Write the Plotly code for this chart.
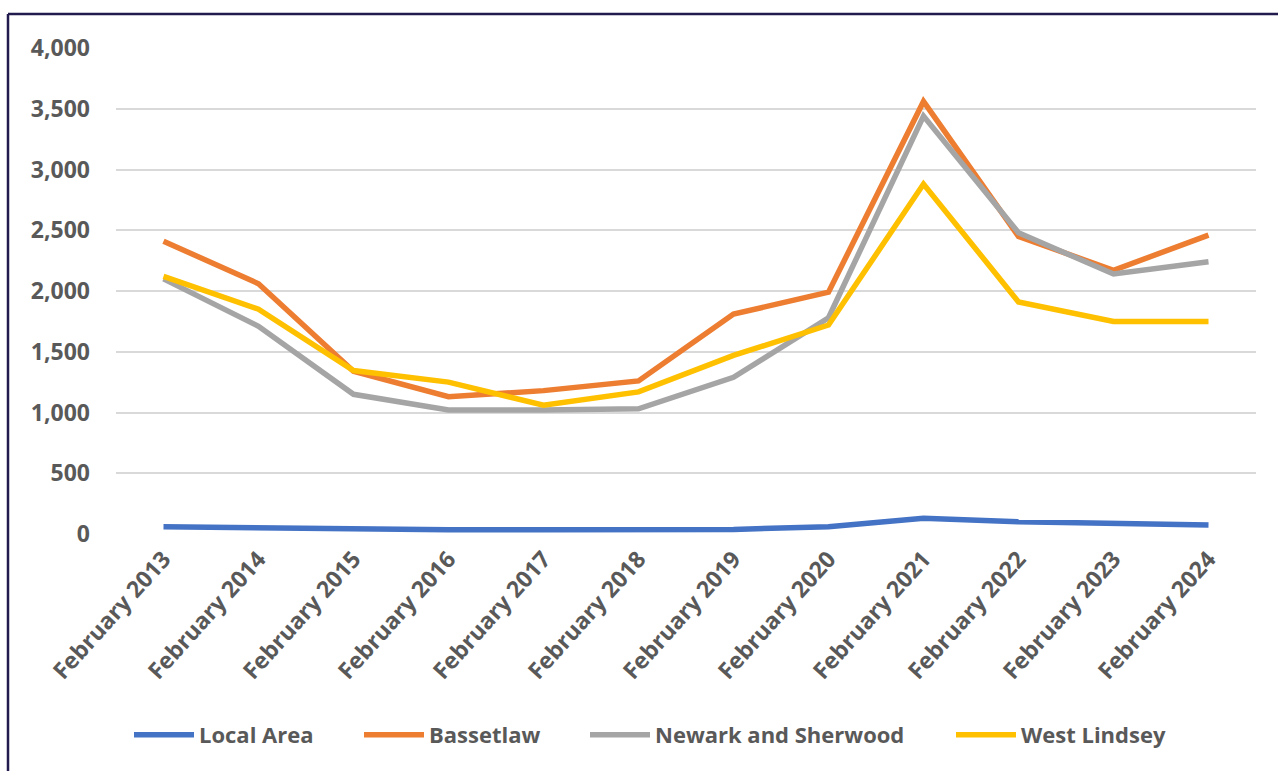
import plotly.graph_objects as go

categories = ["February 2013", "February 2014", "February 2015", "February 2016",
              "February 2017", "February 2018", "February 2019", "February 2020",
              "February 2021", "February 2022", "February 2023", "February 2024"]

local_area = [60, 50, 35, 35, 35, 35, 38, 60, 130, 100, 90, 75]
bassetlaw = [2410, 2060, 1340, 1130, 1180, 1260, 1810, 1990, 3560, 2450, 2170, 2460]
newark_sherwood = [2100, 1710, 1150, 1020, 1020, 1030, 1290, 1780, 3440, 2480, 2140, 2240]
west_lindsey = [2120, 1850, 1345, 1250, 1060, 1170, 1470, 1720, 2880, 1910, 1750, 1750]

series_names = ["Local Area", "Bassetlaw", "Newark and Sherwood", "West Lindsey"]
series_values = [local_area, bassetlaw, newark_sherwood, west_lindsey]
series_colors = ["#4472C4", "#ED7D31", "#A5A5A5", "#FFC000"]
legend_left_px = [129, 359, 585, 951]

FONT = "Open Sans"
TXT = "#595959"

W, H = 1278, 771
ml, mr, mt, mb = 116, 22, 48, 237
pw, ph = W - ml - mr, H - mt - mb

def px_x(p):
    return (p - ml) / pw

def px_y(p):
    return (H - mb - p) / ph

fig = go.Figure()
legend_layouts = {}
for i, (name, vals, col) in enumerate(zip(series_names, series_values, series_colors)):
    lname = "legend" if i == 0 else f"legend{i + 1}"
    fig.add_trace(go.Scatter(x=categories, y=vals, name=name, mode="lines",
                             line=dict(color=col, width=5.5), legend=lname))
    legend_layouts[lname] = dict(
        orientation="h", x=px_x(legend_left_px[i]), xanchor="left",
        y=px_y(735), yanchor="middle", bgcolor="rgba(0,0,0,0)",
        font=dict(family=FONT, size=22, color=TXT, weight="bold"),
        itemwidth=60)

border = "#211B4E"
fig.add_shape(type="line", xref="paper", yref="paper",
              x0=px_x(8), x1=px_x(1290), y0=px_y(14), y1=px_y(14),
              line=dict(color=border, width=2.5))
fig.add_shape(type="line", xref="paper", yref="paper",
              x0=px_x(8), x1=px_x(8), y0=px_y(14), y1=px_y(790),
              line=dict(color=border, width=2.5))

fig.update_layout(
    width=W, height=H,
    margin=dict(l=ml, r=mr, t=mt, b=mb, autoexpand=False),
    paper_bgcolor="white", plot_bgcolor="white",
    font=dict(family=FONT, color=TXT, size=22),
    showlegend=True,
    xaxis=dict(type="category", showgrid=False, zeroline=False, showline=False,
               ticks="", tickangle=-48,
               tickfont=dict(family=FONT, size=23, color=TXT, weight="bold"),
               range=[-0.5, len(categories) - 0.5], ticklabelstandoff=6),
    yaxis=dict(range=[0, 4000], dtick=500, tickformat=",d",
               showgrid=True, gridcolor="#D9D9D9", gridwidth=2,
               zeroline=False, showline=False, ticks="",
               tickfont=dict(family=FONT, size=23, color=TXT, weight="bold"),
               ticklabelstandoff=25),
    **legend_layouts,
)

fig.write_html("out.html")
